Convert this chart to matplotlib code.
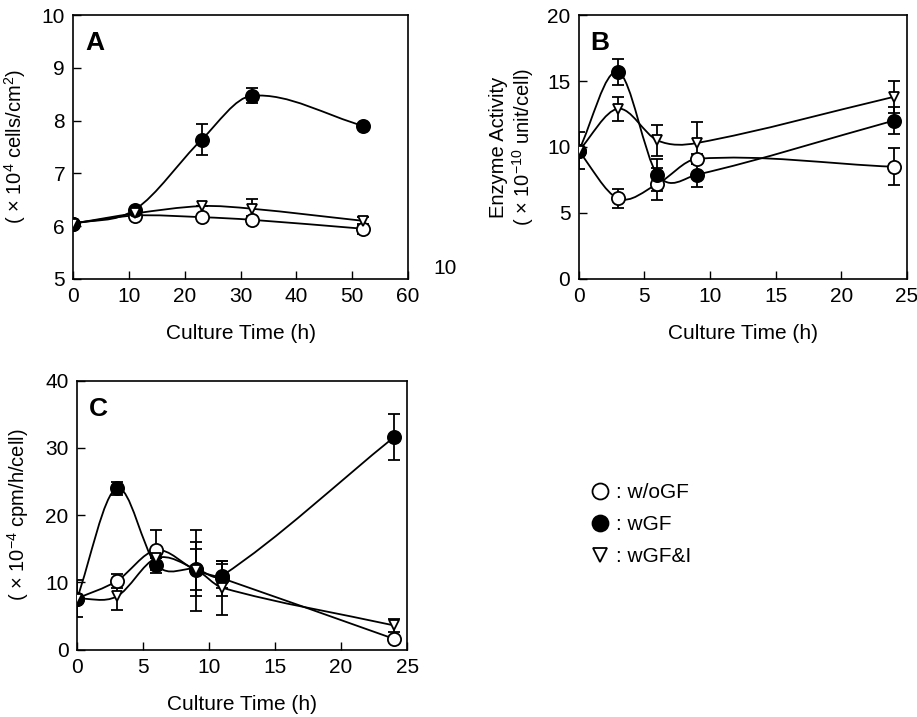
"""Three-panel culture time course: cell density (A), enzyme activity (B), cpm (C)."""
import matplotlib
matplotlib.use("Agg")
import matplotlib.pyplot as plt
from matplotlib.lines import Line2D
from matplotlib.patches import PathPatch
from matplotlib.path import Path
import numpy as np

plt.rcParams["font.family"] = ["Liberation Sans", "DejaVu Sans"]
plt.rcParams["mathtext.default"] = "regular"

SERIES = ["w/oGF", "wGF", "wGF&I"]

# (A) cell density, x10^4 cells/cm2
a_time = [0, 11, 23, 32, 52]
a_wo = [6.05, 6.20, 6.17, 6.12, 5.95]
a_wo_err = [0.0, 0.0, 0.0, 0.08, 0.10]
a_gf = [6.05, 6.31, 7.64, 8.47, 7.90]
a_gf_err = [0.0, 0.0, 0.30, 0.14, 0.0]
a_gfi = [6.05, 6.24, 6.38, 6.33, 6.10]
a_gfi_err = [0.0, 0.0, 0.0, 0.18, 0.07]

# (B) enzyme activity, x10^-10 unit/cell
b_time = [0, 3, 6, 9, 24]
b_wo = [9.7, 6.1, 7.2, 9.1, 8.5]
b_wo_err = [1.4, 0.75, 1.2, 0.4, 1.4]
b_gf = [9.7, 15.7, 7.9, 7.9, 12.0]
b_gf_err = [0.0, 1.0, 1.2, 0.9, 1.0]
b_gfi = [9.7, 12.9, 10.5, 10.3, 13.8]
b_gfi_err = [0.0, 0.9, 1.2, 1.6, 1.2]

# (C) x10^-4 cpm/h/cell
c_time = [0, 3, 6, 9, 11, 24]
c_wo = [7.6, 10.2, 14.8, 11.8, 10.6, 1.6]
c_wo_err = [0.0, 1.0, 3.0, 6.0, 2.6, 0.3]
c_gf = [7.6, 24.0, 12.6, 12.0, 11.0, 31.6]
c_gf_err = [0.0, 1.0, 1.2, 4.0, 1.8, 3.4]
c_gfi = [7.6, 7.9, 13.6, 11.9, 9.2, 3.6]
c_gfi_err = [2.8, 2.0, 0.0, 3.0, 4.0, 1.0]


def smooth_path(x, y):
    """Cubic Hermite Bezier path through the points (finite-difference tangents)."""
    x = np.asarray(x, float); y = np.asarray(y, float)
    n = len(x)
    m = np.empty(n)
    m[0] = (y[1] - y[0]) / (x[1] - x[0])
    m[-1] = (y[-1] - y[-2]) / (x[-1] - x[-2])
    for i in range(1, n - 1):
        m[i] = (y[i + 1] - y[i - 1]) / (x[i + 1] - x[i - 1])
    verts = [(x[0], y[0])]
    codes = [Path.MOVETO]
    for i in range(n - 1):
        d = (x[i + 1] - x[i]) / 3.0
        verts += [(x[i] + d, y[i] + d * m[i]), (x[i + 1] - d, y[i + 1] - d * m[i + 1]),
                  (x[i + 1], y[i + 1])]
        codes += [Path.CURVE4] * 3
    return Path(verts, codes)


def draw_panel(ax, t, groups, xlim, ylim, xticks, yticks, letter):
    styles = [dict(marker="o", mfc="white", ms=9.5),
              dict(marker="o", mfc="black", ms=9.5),
              dict(marker="v", mfc="white", ms=7.5)]
    for (vals, err), st in zip(groups, styles):
        ax.add_patch(PathPatch(smooth_path(t, vals), fill=False, lw=1.3, ec="black", zorder=2))
        ax.errorbar(t, vals, yerr=err, fmt="none", ecolor="black", elinewidth=1.3,
                    capsize=4, capthick=1.3, zorder=3)
        ax.plot(t, vals, ls="none", mec="black", mew=1.3, zorder=4, **st)
    ax.set_xlim(*xlim); ax.set_ylim(*ylim)
    ax.set_xticks(xticks); ax.set_yticks(yticks)
    ax.tick_params(direction="in", length=6, width=1, labelsize=15, pad=6)
    for s in ax.spines.values():
        s.set_linewidth(1.2)
    ax.text(0.035, 0.94, letter, transform=ax.transAxes, fontsize=19, fontweight="bold",
            va="top", ha="left")


fig = plt.figure(figsize=(9.17, 7.17), dpi=100)
axA = fig.add_axes([0.080, 0.611, 0.365, 0.368])
axB = fig.add_axes([0.631, 0.611, 0.358, 0.368])
axC = fig.add_axes([0.084, 0.094, 0.360, 0.375])

draw_panel(axA, a_time, [(a_wo, a_wo_err), (a_gf, a_gf_err), (a_gfi, a_gfi_err)],
           (0, 60), (5, 10), range(0, 61, 10), range(5, 11), "A")
draw_panel(axB, b_time, [(b_wo, b_wo_err), (b_gf, b_gf_err), (b_gfi, b_gfi_err)],
           (0, 25), (0, 20), range(0, 26, 5), range(0, 21, 5), "B")
draw_panel(axC, c_time, [(c_wo, c_wo_err), (c_gf, c_gf_err), (c_gfi, c_gfi_err)],
           (0, 25), (0, 40), range(0, 26, 5), range(0, 41, 10), "C")

axA.set_ylabel("( × 10$^{4}$ cells/cm$^{2}$)", fontsize=14.5, labelpad=10)
axB.set_ylabel("Enzyme Activity\n( × 10$^{-10}$ unit/cell)", fontsize=14.5, labelpad=8,
               linespacing=1.1)
axC.set_ylabel("( × 10$^{-4}$ cpm/h/cell)", fontsize=14.5, labelpad=10)
for ax in (axA, axB, axC):
    ax.set_xlabel("Culture Time (h)", fontsize=15, labelpad=13)

fig.text(0.485, 0.626, "10", fontsize=15, ha="center", va="center")

handles = [Line2D([], [], ls="none", marker="o", mfc="white", mec="black", ms=11.5, mew=1.3),
           Line2D([], [], ls="none", marker="o", mfc="black", mec="black", ms=11.5, mew=1.3),
           Line2D([], [], ls="none", marker="v", mfc="white", mec="black", ms=9.5, mew=1.3)]
fig.legend(handles, [": " + s for s in SERIES], loc="upper left",
           bbox_to_anchor=(0.622, 0.352), frameon=False, fontsize=15,
           handlelength=1.0, handletextpad=0.3, labelspacing=0.62)

fig.savefig("out.png", dpi=100)
